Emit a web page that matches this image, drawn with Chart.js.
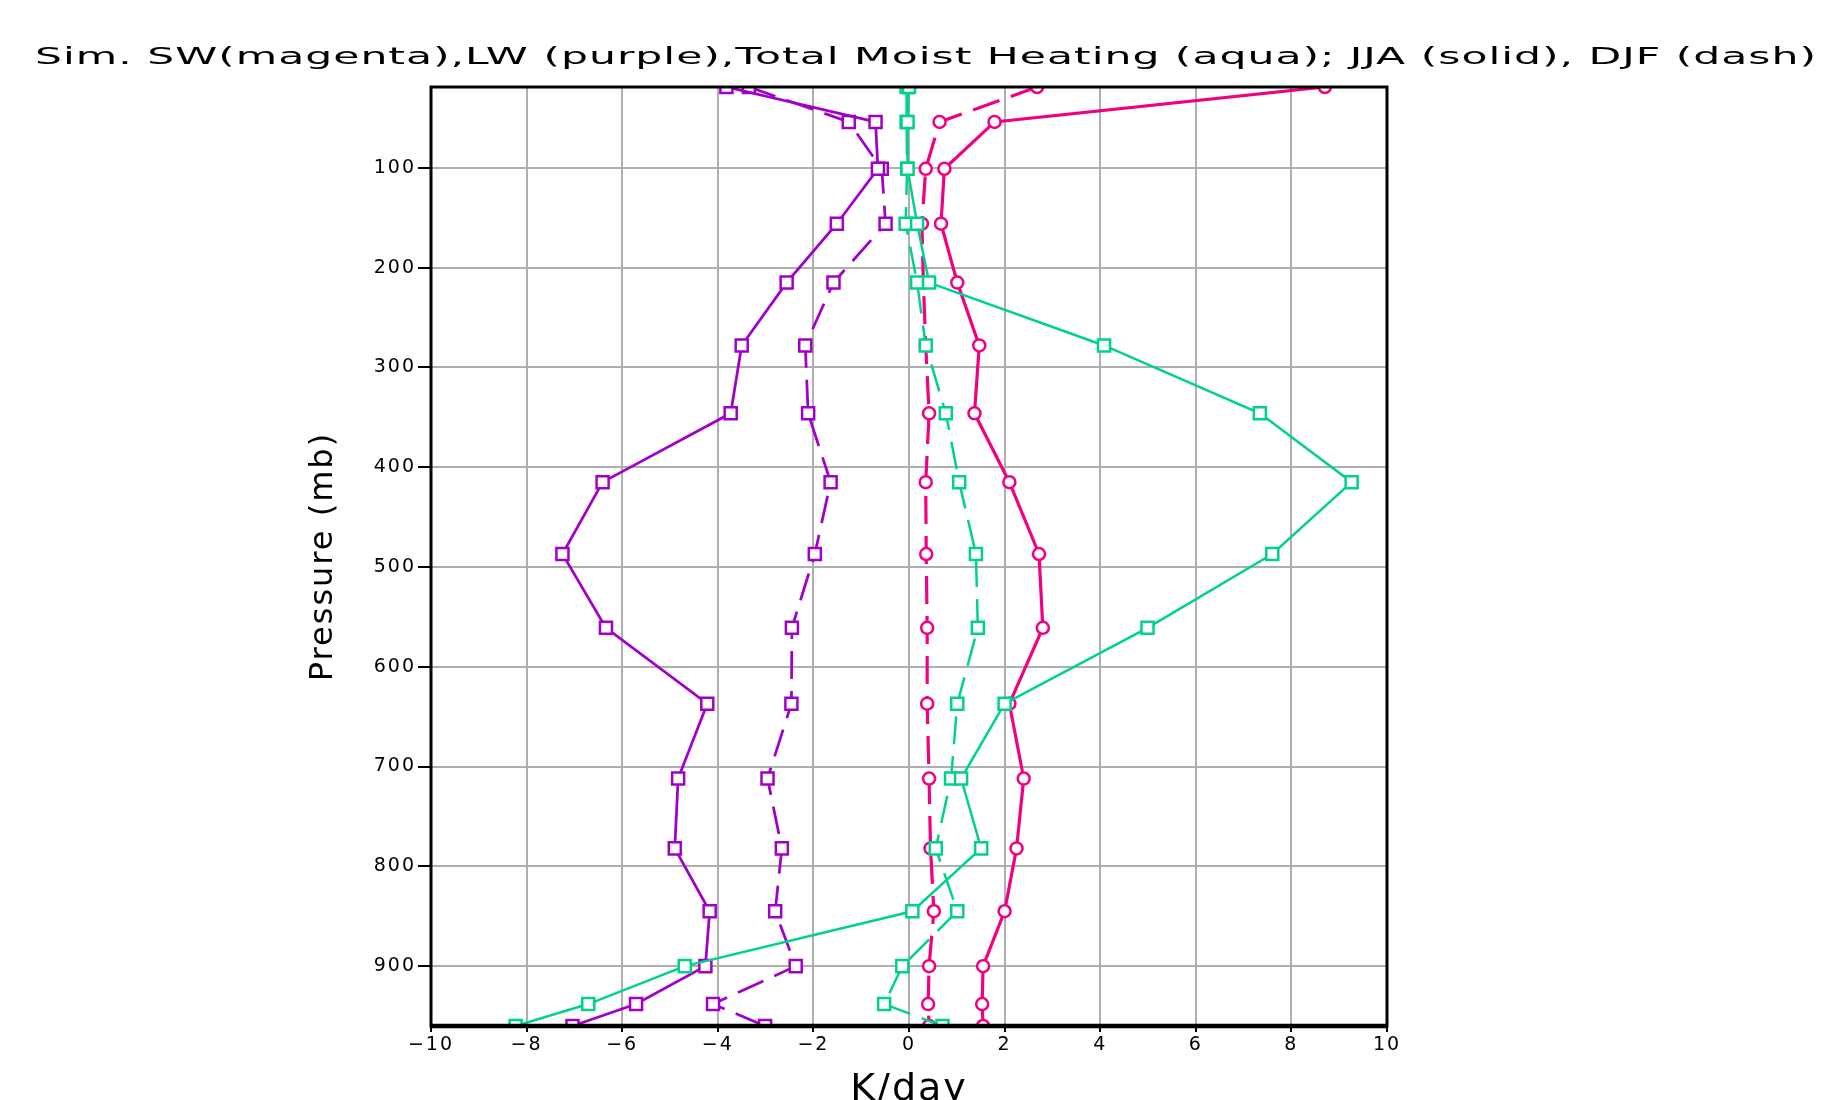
<!DOCTYPE html>
<html>
<head>
<meta charset="utf-8">
<script src="https://cdn.jsdelivr.net/npm/chart.js@4.4.0/dist/chart.umd.min.js"></script>
<style>
html,body{margin:0;padding:0;background:#ffffff;}
#wrap{width:1825px;height:1100px;position:relative;}
</style>
</head>
<body>
<div id="wrap"><canvas id="c"></canvas></div>
<script>
// ---- data ----
const levels = [19, 54, 101, 156, 215, 278, 346, 415, 487, 561, 637, 712, 782, 845, 900, 938, 960];
const swJJA = [8.70, 1.79, 0.74, 0.67, 1.01, 1.47, 1.37, 2.10, 2.72, 2.80, 2.10, 2.40, 2.25, 2.00, 1.55, 1.53, 1.55];
const swDJF = [2.68, 0.64, 0.35, 0.27, 0.30, 0.35, 0.42, 0.35, 0.36, 0.38, 0.38, 0.42, 0.45, 0.52, 0.42, 0.40, 0.42];
const lwJJA = [-3.82, -0.70, -0.65, -1.51, -2.56, -3.50, -3.73, -6.41, -7.25, -6.34, -4.22, -4.83, -4.90, -4.17, -4.26, -5.71, -7.04];
const lwDJF = [-3.35, -1.26, -0.57, -0.49, -1.58, -2.17, -2.11, -1.64, -1.97, -2.45, -2.46, -2.96, -2.66, -2.80, -2.37, -4.10, -3.01];
const mhJJA = [0.00, -0.03, -0.03, 0.17, 0.42, 4.08, 7.34, 9.26, 7.60, 4.99, 2.00, 1.09, 1.51, 0.07, -4.69, -6.71, -8.23];
const mhDJF = [-0.05, -0.05, -0.04, -0.07, 0.17, 0.35, 0.77, 1.05, 1.40, 1.44, 1.01, 0.88, 0.56, 1.01, -0.14, -0.52, 0.70];
const xTickValues = [-10, -8, -6, -4, -2, 0, 2, 4, 6, 8, 10];
const xTickLabels = ['\u221210', '\u22128', '\u22126', '\u22124', '\u22122', '0', '2', '4', '6', '8', '10'];
const yTickValues = [100, 200, 300, 400, 500, 600, 700, 800, 900];
const yTickLabels = ['100', '200', '300', '400', '500', '600', '700', '800', '900'];
const titleText = 'Sim. SW(magenta),LW (purple),Total Moist Heating (aqua); JJA (solid), DJF (dash)';

// ---- styles ----
const C_SW = 'rgb(240,0,130)';
const C_LW = 'rgb(160,0,200)';
const C_MH = 'rgb(0,210,140)';
const GRID = 'rgb(175,175,175)';
const FONT = 'DejaVu Sans';

function ds(label, vals, color, dashed, style, radius, bw) {
  return {
    label: label,
    data: levels.map((p, i) => ({ x: vals[i], y: p })),
    borderColor: color,
    borderWidth: bw,
    borderDash: dashed ? [28, 12] : [],
    pointStyle: style,
    pointRadius: radius,
    pointHoverRadius: radius,
    pointBorderColor: color,
    pointBackgroundColor: '#ffffff',
    pointBorderWidth: 2.5,
    fill: false,
    tension: 0
  };
}

const framePlugin = {
  id: 'frame',
  beforeDraw(chart) {
    chart.ctx.letterSpacing = '2px';
  },
  afterDatasetsDraw(chart) {
    const { ctx, chartArea: a } = chart;
    ctx.save();
    ctx.strokeStyle = '#000';
    ctx.lineWidth = 3;
    ctx.strokeRect(a.left, a.top, a.right - a.left, a.bottom - a.top);
    ctx.lineWidth = 4.5;
    ctx.beginPath();
    ctx.moveTo(a.left - 1, a.bottom);
    ctx.lineTo(a.right + 1, a.bottom);
    ctx.stroke();
    ctx.restore();
  },
  afterDraw(chart) {
    const ctx = chart.ctx;
    ctx.save();
    ctx.letterSpacing = '0px';
    ctx.font = '23px "' + FONT + '"';
    const w = ctx.measureText(titleText).width;
    const target = 1781;
    const sx = Math.min(1.85, target / w);
    const extra = (target - w * sx) / (titleText.length - 1) / sx;
    ctx.letterSpacing = Math.max(0, extra).toFixed(3) + 'px';
    ctx.translate(35, 58);
    ctx.scale(sx, 1);
    ctx.textBaseline = 'middle';
    ctx.textAlign = 'left';
    ctx.fillStyle = '#000';
    ctx.fillText(titleText, 0, 0);
    ctx.restore();
  }
};

new Chart(document.getElementById('c'), {
  type: 'line',
  data: {
    datasets: [
      ds('Moist JJA', mhJJA, C_MH, false, 'rect', 8.5, 2.5),
      ds('Moist DJF', mhDJF, C_MH, true, 'rect', 8.5, 2.5),
      ds('LW JJA', lwJJA, C_LW, false, 'rect', 8.5, 2.75),
      ds('LW DJF', lwDJF, C_LW, true, 'rect', 8.5, 2.75),
      ds('SW JJA', swJJA, C_SW, false, 'circle', 6, 3.2),
      ds('SW DJF', swDJF, C_SW, true, 'circle', 6, 3.2)
    ]
  },
  options: {
    responsive: true,
    maintainAspectRatio: false,
    devicePixelRatio: 1,
    animation: false,
    events: [],
    layout: { padding: { left: 300, top: 87, right: 438, bottom: 0 } },
    plugins: {
      legend: { display: false },
      title: { display: false },
      tooltip: { enabled: false }
    },
    scales: {
      x: {
        type: 'linear',
        min: -10,
        max: 10,
        afterBuildTicks: s => { s.ticks = xTickValues.map(v => ({ value: v })); },
        afterFit: s => { s.height = 74; },
        grid: { color: GRID, lineWidth: 2, drawTicks: true, tickLength: 6, tickColor: '#000', tickWidth: 2 },
        border: { display: false },
        ticks: {
          color: '#000',
          font: { family: FONT, size: 19 },
          padding: 2,
          maxRotation: 0,
          autoSkip: false,
          callback: v => xTickLabels[xTickValues.indexOf(v)]
        },
        title: {
          display: true,
          text: 'K/day',
          color: '#000',
          font: { family: FONT, size: 38, lineHeight: 0.5 },
          padding: { top: 0, bottom: 0 }
        }
      },
      y: {
        type: 'linear',
        reverse: true,
        min: 19,
        max: 960,
        afterBuildTicks: s => { s.ticks = yTickValues.map(v => ({ value: v })); },
        afterFit: s => { s.width = 131; },
        grid: { color: GRID, lineWidth: 2, drawTicks: true, tickLength: 13, tickColor: '#000', tickWidth: 2 },
        border: { display: false },
        ticks: {
          color: '#000',
          font: { family: FONT, size: 19 },
          padding: 2,
          autoSkip: false,
          callback: v => yTickLabels[yTickValues.indexOf(v)]
        },
        title: {
          display: true,
          text: 'Pressure (mb)',
          color: '#000',
          font: { family: FONT, size: 32, lineHeight: 1 },
          padding: { top: 8, bottom: 0 }
        }
      }
    }
  },
  plugins: [framePlugin]
});
</script>
</body>
</html>
